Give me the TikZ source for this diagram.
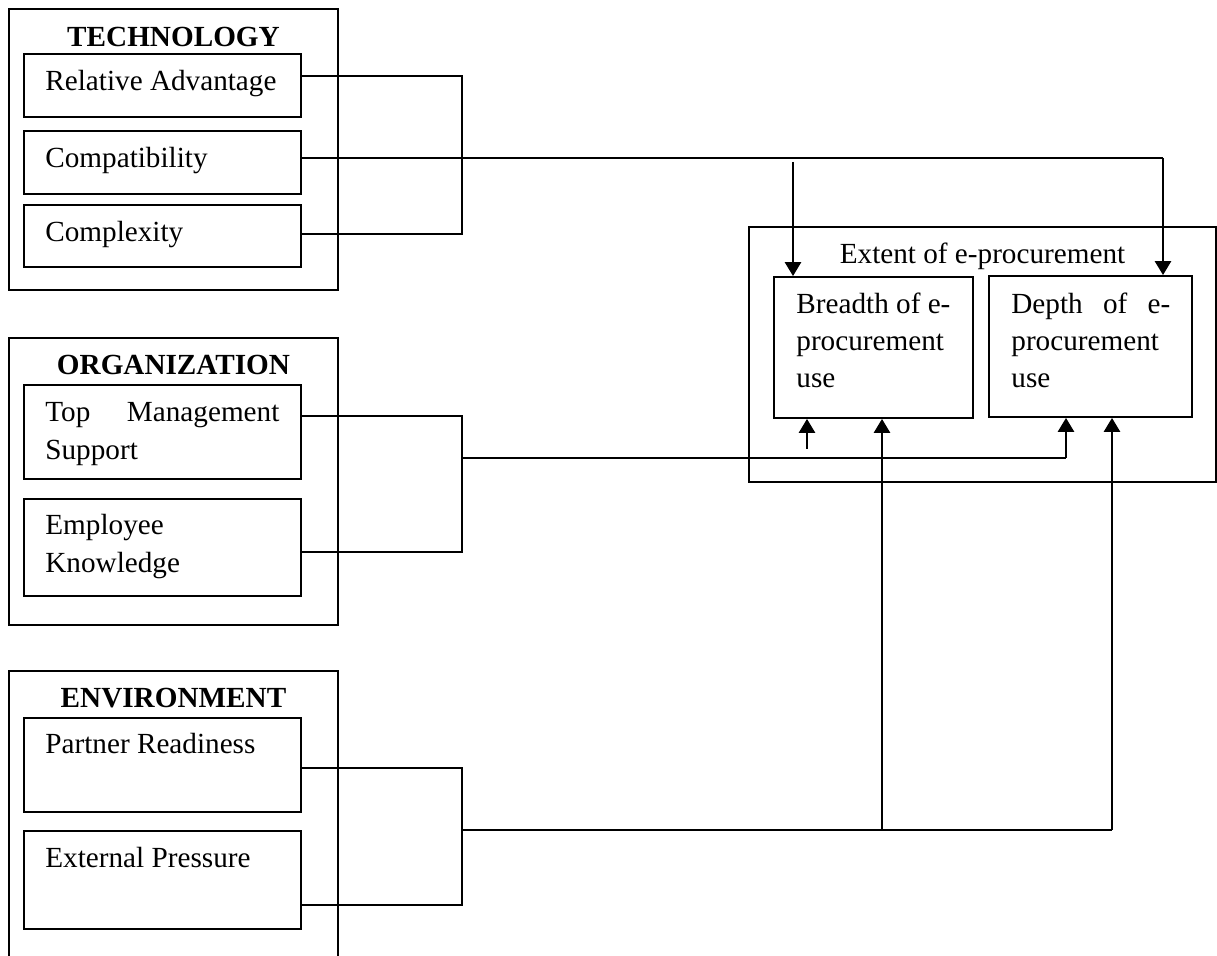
\documentclass[tikz,border=0pt]{standalone}
\usepackage{fontspec}
\setmainfont{Liberation Serif}
\usetikzlibrary{arrows.meta,fit}
\begin{document}
\begin{tikzpicture}[x=0.5pt,y=-0.5pt,
  box/.style={draw, line width=0.9pt, inner sep=0pt},
  txt/.style={anchor=base west, inner sep=0pt, font=\fontsize{14.6}{18}\selectfont},
  ttl/.style={anchor=base, inner sep=0pt, font=\fontsize{14.6}{18}\selectfont\bfseries},
  wire/.style={line width=0.9pt},
  arr/.style={line width=1.3pt, -{Triangle[length=7pt,width=8pt]}}]
\clip (0,0) rectangle (1217,956);

% ---------- factor groups ----------
\node[box, fit={(9,9) (338,290)}]   (tech) {};
\node[box, fit={(9,338) (338,625)}] (org)  {};
\node[box, fit={(9,671) (338,975)}] (env)  {};

\node[ttl] (techT) at (173.5,47)  {TECHNOLOGY};
\node[ttl] (orgT)  at (173.5,375) {ORGANIZATION};
\node[ttl] (envT)  at (173.5,708) {ENVIRONMENT};

% ---------- factor boxes ----------
\node[box, fit={(24,54) (301,117)}]  (ra) {};
\node[box, fit={(24,131) (301,194)}] (cp) {};
\node[box, fit={(24,205) (301,267)}] (cx) {};
\node[box, fit={(24,385) (301,479)}] (tm) {};
\node[box, fit={(24,499) (301,596)}] (ek) {};
\node[box, fit={(24,718) (301,812)}] (pr) {};
\node[box, fit={(24,831) (301,929)}] (ep) {};

\node[txt] (raT)  at (45,91)  {Relative Advantage};
\node[txt] (cpT)  at (45,168) {Compatibility};
\node[txt] (cxT)  at (45,242) {Complexity};
\node[txt] (tmT1) at (45,422) {\hbox to 117pt{Top\hfill Management}};
\node[txt] (tmT2) at (45,460) {Support};
\node[txt] (ekT1) at (45,535) {Employee};
\node[txt] (ekT2) at (45,573) {Knowledge};
\node[txt] (prT)  at (45,754) {Partner Readiness};
\node[txt] (epT)  at (45,868) {External Pressure};

% ---------- outcome ----------
\node[box, fit={(749,227) (1216,482)}] (ext) {};
\node[anchor=base, inner sep=0pt, font=\fontsize{14.6}{18}\selectfont] (extT) at (982.5,264) {Extent of e-procurement};

\node[box, fit={(774,277) (973,418)}]  (br) {};
\node[box, fit={(989,276) (1192,417)}] (dp) {};

\node[txt] (brT1) at (796,314) {Breadth of e-};
\node[txt] (brT2) at (796,351) {procurement};
\node[txt] (brT3) at (796,388) {use};
\node[txt] (dpT1) at (1011,314) {\hbox to 79.5pt{Depth\hfill of\hfill e-}};
\node[txt] (dpT2) at (1011,351) {procurement};
\node[txt] (dpT3) at (1011,388) {use};

% ---------- technology links ----------
\draw[wire] ([yshift=4.75pt]ra.east) -- ++(160,0) |- ([yshift=1pt]cx.east);
\coordinate (cpin) at (1163,158);
\draw[wire] ([yshift=2.25pt]cp.east) -- (cpin);
\draw[arr] (cpin) -- (dp.north -| cpin);
\coordinate (bt) at (793,162);
\draw[arr] (bt) -- (br.north -| bt);

% ---------- organization links ----------
\draw[wire] ([yshift=8pt]tm.east) -- ++(160,0) |- ([yshift=-2.25pt]ek.east);
\coordinate (jo) at (461,458);
\coordinate (dpo) at (1066,458);
\draw[wire] (jo) -- (dpo);
\draw[arr] (dpo) -- (dp.south -| dpo);
\coordinate (bs) at (807,449);
\draw[arr] (bs) -- (br.south -| bs);

% ---------- environment links ----------
\draw[wire] ([yshift=-1.5pt]pr.east) -- ++(160,0) |- ([yshift=-12.5pt]ep.east);
\coordinate (je) at (461,830);
\coordinate (dpe) at (1112,830);
\coordinate (bre) at (882,830);
\draw[wire] (je) -- (dpe);
\draw[arr] (dpe) -- (dp.south -| dpe);
\draw[arr] (bre) -- (br.south -| bre);
\end{tikzpicture}
\end{document}
